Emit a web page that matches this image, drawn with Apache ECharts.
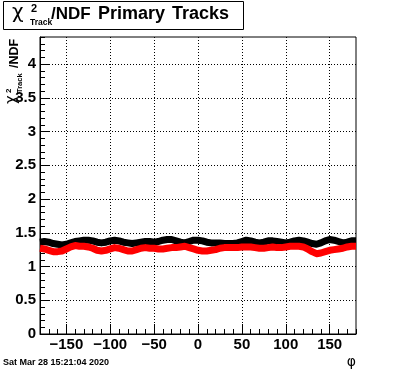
<!DOCTYPE html>
<html>
<head>
<meta charset="utf-8">
<script src="https://cdn.jsdelivr.net/npm/echarts@6/dist/echarts.min.js"></script>
<style>
html,body{margin:0;padding:0;background:#fff;}
#c{width:396px;height:372px;}
</style>
</head>
<body>
<div id="c"></div>
<script>
const phi = [-180,-175,-170,-165,-160,-155,-150,-145,-140,-135,-130,-125,-120,-115,-110,-105,-100,-95,-90,-85,-80,-75,-70,-65,-60,-55,-50,-45,-40,-35,-30,-25,-20,-15,-10,-5,0,5,10,15,20,25,30,35,40,45,50,55,60,65,70,75,80,85,90,95,100,105,110,115,120,125,130,135,140,145,150,155,160,165,170,175,180];
const blackVals = [1.36,1.37,1.36,1.34,1.33,1.32,1.33,1.35,1.37,1.38,1.39,1.39,1.38,1.36,1.35,1.36,1.38,1.39,1.38,1.36,1.35,1.34,1.35,1.36,1.37,1.37,1.36,1.37,1.39,1.40,1.40,1.38,1.36,1.35,1.37,1.39,1.39,1.38,1.36,1.35,1.35,1.35,1.34,1.34,1.34,1.35,1.37,1.39,1.38,1.36,1.35,1.36,1.38,1.38,1.37,1.36,1.35,1.36,1.38,1.39,1.38,1.36,1.34,1.33,1.35,1.38,1.40,1.39,1.37,1.35,1.36,1.38,1.38];
const redVals = [1.27,1.26,1.24,1.22,1.22,1.23,1.26,1.29,1.31,1.30,1.30,1.29,1.27,1.24,1.23,1.24,1.26,1.28,1.27,1.25,1.23,1.23,1.25,1.27,1.28,1.27,1.27,1.26,1.26,1.27,1.28,1.28,1.29,1.30,1.28,1.26,1.24,1.23,1.23,1.24,1.25,1.27,1.28,1.28,1.28,1.28,1.29,1.29,1.29,1.28,1.27,1.27,1.28,1.29,1.28,1.28,1.29,1.30,1.30,1.30,1.29,1.26,1.22,1.19,1.20,1.22,1.24,1.25,1.26,1.27,1.29,1.30,1.30];
const xTickLabels = [-150,-100,-50,0,50,100,150];
const yTickLabels = [0,0.5,1,1.5,2,2.5,3,3.5,4];

const chart = echarts.init(document.getElementById('c'), null, {renderer:'canvas'});
const FONT = 'Liberation Sans, Arial, Helvetica, sans-serif';
const GREEK = '"DejaVu Sans", sans-serif';
const xFmt = v => (v < 0 ? '\u2212' + Math.abs(v) : String(v));

const option = {
  backgroundColor: '#fff',
  animation: false,
  grid: {left:40, right:40, top:37, bottom:38, show:true, borderColor:'#000', borderWidth:1, backgroundColor:'transparent', containLabel:false, outerBoundsMode:'none'},
  xAxis: [
    {type:'value', min:-180, max:180, interval:10, position:'bottom',
     axisLine:{show:true, onZero:false, lineStyle:{color:'#000', width:1}},
     axisTick:{show:true, inside:true, length:5, lineStyle:{color:'#000'}},
     axisLabel:{show:false}, splitLine:{show:false}},
    {type:'value', min:-180, max:180, position:'bottom',
     axisLine:{show:false, onZero:false},
     axisTick:{show:true, inside:true, length:10, customValues:xTickLabels, lineStyle:{color:'#000'}},
     axisLabel:{show:true, customValues:xTickLabels, formatter:xFmt, color:'#000', fontFamily:FONT, fontWeight:'bold', fontSize:15, margin:3},
     splitLine:{show:true, lineStyle:{color:'#000', width:1, type:[1,2]}}}
  ],
  yAxis: [
    {type:'value', min:0, max:4.4, interval:0.1, position:'left',
     axisLine:{show:true, onZero:false, lineStyle:{color:'#000', width:1}},
     axisTick:{show:true, inside:true, length:5, lineStyle:{color:'#000'}},
     axisLabel:{show:false}, splitLine:{show:false}},
    {type:'value', min:0, max:4.4, position:'left',
     axisLine:{show:false, onZero:false},
     axisTick:{show:true, inside:true, length:10, customValues:yTickLabels, lineStyle:{color:'#000'}},
     axisLabel:{show:true, customValues:yTickLabels, color:'#000', fontFamily:FONT, fontWeight:'bold', fontSize:15, margin:4},
     splitLine:{show:true, lineStyle:{color:'#000', width:1, type:[1,2]}}}
  ],
  series: [
    {type:'line', xAxisIndex:0, yAxisIndex:0, data: phi.map((p,i)=>[p, blackVals[i]]),
     showSymbol:false, symbol:'none', clip:true,
     lineStyle:{color:'#000', width:7, cap:'butt', join:'round'}},
    {type:'line', xAxisIndex:0, yAxisIndex:0, data: phi.map((p,i)=>[p, redVals[i]]),
     showSymbol:false, symbol:'none', clip:true,
     lineStyle:{color:'#ff0000', width:7, cap:'butt', join:'round'}}
  ],
  graphic: [
    {type:'rect', shape:{x:3.5, y:1.5, width:240, height:28}, style:{fill:'#fff', stroke:'#000', lineWidth:1}, z:10},
    {type:'text', x:12, y:13, z:11, style:{text:'\u03c7', font:'20px '+GREEK, fill:'#000', verticalAlign:'middle'}},
    {type:'text', x:31, y:8.5, z:11, style:{text:'2', font:'bold 11px '+FONT, fill:'#000', verticalAlign:'middle'}},
    {type:'text', x:30, y:23, z:11, style:{text:'Track', font:'bold 8.5px '+FONT, fill:'#000', verticalAlign:'middle'}},
    {type:'text', x:51, y:14, z:11, style:{text:'/NDF', font:'bold 17px '+FONT, fill:'#000', verticalAlign:'middle'}},
    {type:'text', x:98, y:14, z:11, style:{text:'Primary', font:'bold 18px '+FONT, fill:'#000', verticalAlign:'middle'}},
    {type:'text', x:172, y:14, z:11, style:{text:'Tracks', font:'bold 18px '+FONT, fill:'#000', verticalAlign:'middle'}},
    {type:'group', x:15, y:104, rotation:Math.PI/2, z:11, children:[
      {type:'text', x:0, y:-3, style:{text:'\u03c7', font:'15px '+GREEK, fill:'#000', verticalAlign:'middle'}},
      {type:'text', x:11, y:-6, style:{text:'2', font:'bold 8px '+FONT, fill:'#000', verticalAlign:'middle'}},
      {type:'text', x:11, y:5, style:{text:'Track', font:'bold 7.5px '+FONT, fill:'#000', verticalAlign:'middle'}},
      {type:'text', x:36, y:0, style:{text:'/NDF', font:'bold 12.5px '+FONT, fill:'#000', verticalAlign:'middle'}}
    ]},
    {type:'text', x:356, y:362, z:11, style:{text:'\u03c6', font:'14px '+GREEK, fill:'#000', align:'right', verticalAlign:'middle'}},
    {type:'text', x:3, y:363, z:11, style:{text:'Sat Mar 28 15:21:04 2020', font:'bold 9px '+FONT, fill:'#000', verticalAlign:'middle'}}
  ]
};
chart.setOption(option);
</script>
</body>
</html>
